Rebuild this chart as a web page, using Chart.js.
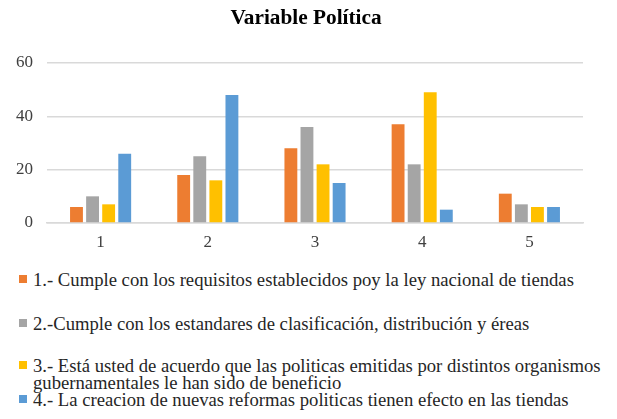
<!DOCTYPE html>
<html><head><meta charset="utf-8">
<script src="https://cdn.jsdelivr.net/npm/chart.js@4.4.0/dist/chart.umd.min.js"></script>
<style>
html,body{margin:0;padding:0;background:#fff;width:617px;height:419px;overflow:hidden;font-family:"Liberation Serif","Times New Roman",serif;}
#wrap{position:absolute;left:0;top:0;width:617px;height:265px;}
#title{position:absolute;left:0;top:4px;width:612px;text-align:center;font-weight:bold;font-size:21.3px;line-height:26px;color:#000;}
#legend{position:absolute;left:19px;top:0;width:598px;}
.item{position:absolute;left:0;display:flex;align-items:flex-start;font-size:18.67px;line-height:17px;color:#262626;}
.box{width:8px;height:8px;margin-top:4.5px;margin-right:6px;flex:none;}
.txt{width:575px;}
</style></head>
<body>
<div id="wrap"><canvas id="c"></canvas></div>
<div id="title">Variable Política</div>
<div id="legend"></div>
<script>
const categories = ['1','2','3','4','5'];
const seriesLabels = [
  '1.- Cumple con los requisitos establecidos poy la ley nacional de tiendas',
  '2.-Cumple con los estandares de clasificación, distribución y éreas',
  '3.- Está usted de acuerdo que las politicas emitidas por distintos organismos gubernamentales le han sido de beneficio',
  '4.- La creacion de nuevas reformas politicas tienen efecto en las tiendas'
];
const s1 = [6, 18, 28, 37, 11];
const s2 = [10, 25, 36, 22, 7];
const s3 = [7, 16, 22, 49, 6];
const s4 = [26, 48, 15, 5, 6];
const yTicks = [0, 20, 40, 60];
const colors = ['#ED7D31','#A5A5A5','#FFC000','#5B9BD5'];
const series = [s1, s2, s3, s4];

const ctx = document.getElementById('c');
new Chart(ctx, {
  type: 'bar',
  data: {
    labels: categories,
    datasets: series.map((d, i) => ({
      label: seriesLabels[i], data: d, backgroundColor: colors[i],
      barPercentage: 0.8, categoryPercentage: 0.6
    }))
  },
  options: {
    responsive: true, maintainAspectRatio: false, animation: false,
    layout: { padding: { left: 0, right: 34, top: 63, bottom: 0 } },
    plugins: {
      legend: { display: false },
      tooltip: { enabled: false },
      title: { display: false }
    },
    scales: {
      x: {
        grid: { display: false, drawTicks: false },
        border: { color: '#d9d9d9', width: 1.5 },
        ticks: { color: '#404040', font: { family: '"Liberation Serif", serif', size: 17 }, padding: 9 },
        afterFit: s => { s.height = 42; }
      },
      y: {
        min: 0, max: 60,
        afterBuildTicks: s => { s.ticks = yTicks.map(v => ({ value: v })); },
        grid: { color: '#d9d9d9', lineWidth: 1.5, drawTicks: false },
        border: { display: false },
        ticks: { color: '#404040', font: { family: '"Liberation Serif", serif', size: 17 }, padding: 14 },
        afterFit: s => { s.width = 47; }
      }
    }
  }
});

const leg = document.getElementById('legend');
const tops = [270.5, 314.5, 356.5, 390.5];
seriesLabels.forEach((t, i) => {
  const it = document.createElement('div');
  it.className = 'item';
  it.style.top = tops[i] + 'px';
  const b = document.createElement('div'); b.className = 'box'; b.style.background = colors[i];
  const s = document.createElement('div'); s.className = 'txt'; s.textContent = t;
  it.appendChild(b); it.appendChild(s); leg.appendChild(it);
});
</script>
</body></html>
